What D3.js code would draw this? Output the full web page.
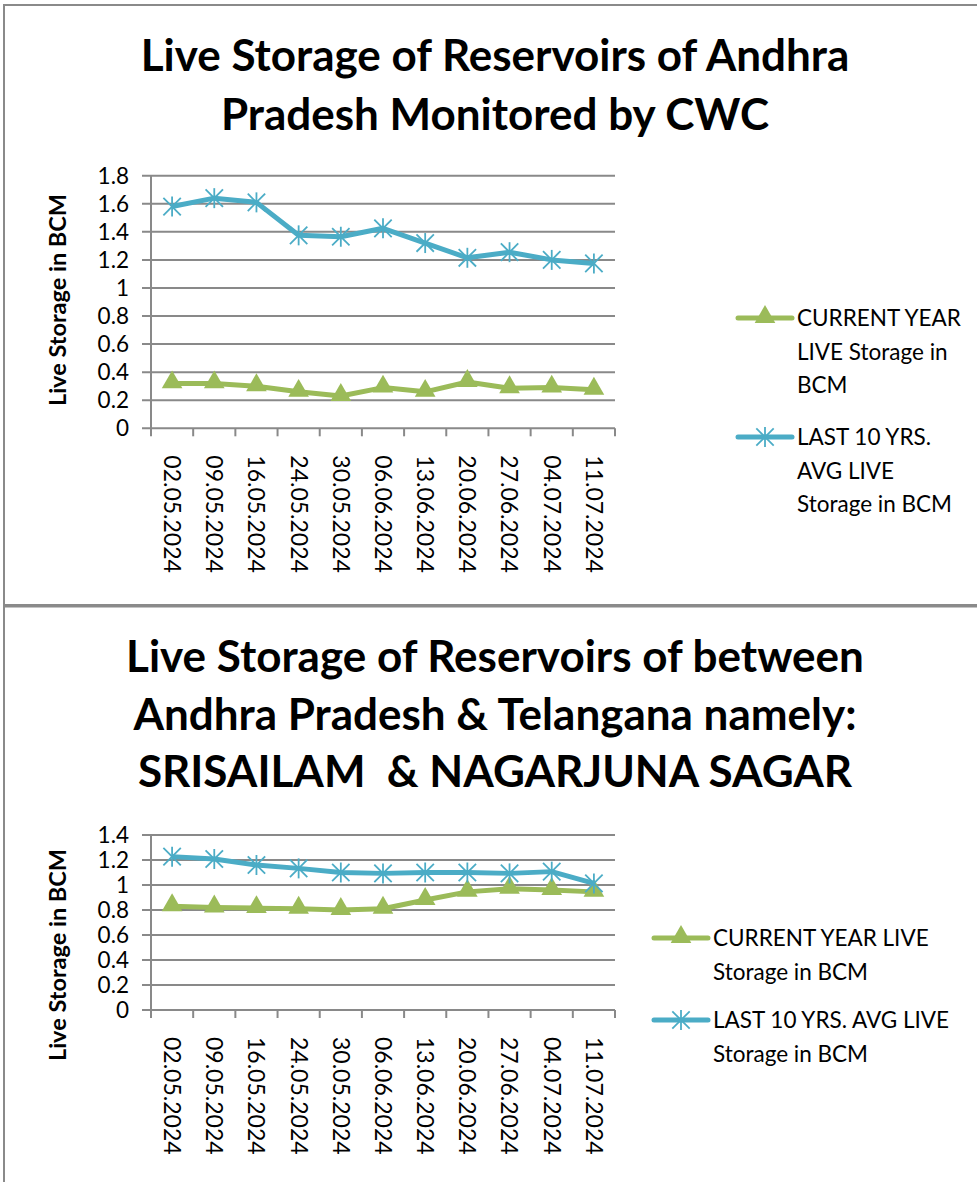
<!doctype html>
<meta charset="utf-8" />
<style>
    body { margin: 0; background: #fff; }
    svg { display: block; font-family: Lato, "Open Sans", sans-serif; }
</style>
<svg></svg>

<script src="https://cdn.jsdelivr.net/npm/d3@7"></script>

<script>
    // dates of the weekly CWC bulletins
    var dates = ['02.05.2024', '09.05.2024', '16.05.2024', '24.05.2024', '30.05.2024', '06.06.2024',
        '13.06.2024', '20.06.2024', '27.06.2024', '04.07.2024', '11.07.2024'];

    // Andhra Pradesh reservoirs (BCM)
    var apCurrent = [0.32, 0.32, 0.30, 0.26, 0.23, 0.29, 0.26, 0.33, 0.285, 0.29, 0.275];
    var apAvg = [1.58, 1.64, 1.61, 1.375, 1.365, 1.425, 1.32, 1.215, 1.255, 1.20, 1.175];

    // Srisailam & Nagarjuna Sagar (BCM)
    var ssCurrent = [0.83, 0.82, 0.815, 0.81, 0.80, 0.81, 0.88, 0.945, 0.97, 0.96, 0.945];
    var ssAvg = [1.227, 1.208, 1.16, 1.133, 1.10, 1.093, 1.10, 1.10, 1.093, 1.107, 1.013];

    var apTicks = [0, 0.2, 0.4, 0.6, 0.8, 1, 1.2, 1.4, 1.6, 1.8];
    var ssTicks = [0, 0.2, 0.4, 0.6, 0.8, 1, 1.2, 1.4];

    var green = '#9bbb59';
    var blue = '#4bacc6';
    var grid = '#898989';

    var svg = d3.select('svg')
        .attr('width', 977)
        .attr('height', 1182)

    // chart frames
    svg.append('rect').attr('x', 4).attr('y', 5).attr('width', 1000).attr('height', 600)
        .style('fill', 'none').style('stroke', '#8a8a8a').style('stroke-width', 2)
    svg.append('rect').attr('x', 4).attr('y', 606.5).attr('width', 1000).attr('height', 700)
        .style('fill', 'none').style('stroke', '#8a8a8a').style('stroke-width', 2)

    function drawChart(opt) {
        var g = svg.append('g');

        var x = d3.scaleBand().domain(dates).range([151, 615]);
        var y = d3.scaleLinear().domain([0, opt.max]).range([opt.bottom, opt.top]);

        // title
        g.append('g').selectAll('text')
            .data(opt.title)
            .enter().append('text')
            .attr('x', 495)
            .attr('y', function (d, i) { return opt.titleY + i * opt.titleStep; })
            .attr('text-anchor', 'middle')
            .attr('xml:space', 'preserve')
            .style('white-space', 'pre')
            .style('font-size', '44px')
            .style('font-weight', 'bold')
            .style('fill', '#000')
            .text(function (d) { return d; })

        // gridlines
        g.append('g').selectAll('line')
            .data(opt.ticks)
            .enter().append('line')
            .attr('x1', 142).attr('x2', 615)
            .attr('y1', function (d) { return y(d); })
            .attr('y2', function (d) { return y(d); })
            .style('stroke', grid).style('stroke-width', 2)

        // y tick labels
        g.append('g').selectAll('text')
            .data(opt.ticks)
            .enter().append('text')
            .attr('x', 129)
            .attr('y', function (d) { return y(d); })
            .attr('dy', '0.36em')
            .attr('text-anchor', 'end')
            .style('font-size', '22.5px')
            .text(function (d) { return String(d); })

        // y axis line
        g.append('line')
            .attr('x1', 151).attr('x2', 151)
            .attr('y1', y(opt.max)).attr('y2', y(0))
            .style('stroke', grid).style('stroke-width', 2)

        // x tick marks between categories
        var edges = dates.map(function (d) { return x(d); }).concat([x.range()[1]]);
        g.append('g').selectAll('line')
            .data(edges)
            .enter().append('line')
            .attr('x1', function (d) { return d; })
            .attr('x2', function (d) { return d; })
            .attr('y1', y(0)).attr('y2', y(0) + 8)
            .style('stroke', grid).style('stroke-width', 2)

        // x labels, rotated
        g.append('g').selectAll('text')
            .data(dates)
            .enter().append('text')
            .attr('transform', function (d) {
                return 'translate(' + (x(d) + x.bandwidth() / 2) + ',' + (y(0) + opt.labelGap) + ') rotate(90)';
            })
            .attr('dy', '0.35em')
            .style('font-size', '23px')
            .text(function (d) { return d; })

        // y axis title
        g.append('text')
            .attr('transform', 'translate(58,' + opt.axisTitleY + ') rotate(-90)')
            .attr('text-anchor', 'middle')
            .attr('dy', '0.35em')
            .style('font-size', '23.5px')
            .style('font-weight', 'bold')
            .text('Live Storage in BCM')

        var line = d3.line()
            .x(function (d, i) { return x(dates[i]) + x.bandwidth() / 2; })
            .y(function (d) { return y(d); })

        var tri = d3.symbol().type(d3.symbolTriangle).size(185);

        function star(sel) {
            var r = 10;
            sel.append('line').attr('x1', 0).attr('x2', 0).attr('y1', -r).attr('y2', r);
            sel.append('line').attr('x1', -r * 0.87).attr('x2', r * 0.87).attr('y1', -r * 0.87).attr('y2', r * 0.87);
            sel.append('line').attr('x1', -r * 0.87).attr('x2', r * 0.87).attr('y1', r * 0.87).attr('y2', -r * 0.87);
        }

        // current year series
        g.append('path')
            .attr('d', line(opt.current))
            .style('fill', 'none').style('stroke', green).style('stroke-width', 5)
            .style('stroke-linejoin', 'round')
        g.append('g').selectAll('path')
            .data(opt.current)
            .enter().append('path')
            .attr('transform', function (d, i) {
                return 'translate(' + (x(dates[i]) + x.bandwidth() / 2) + ',' + (y(d) - 1) + ')';
            })
            .attr('d', tri)
            .style('fill', green)

        // last 10 years average series
        g.append('path')
            .attr('d', line(opt.avg))
            .style('fill', 'none').style('stroke', blue).style('stroke-width', 5)
            .style('stroke-linejoin', 'round')
        g.append('g').selectAll('g')
            .data(opt.avg)
            .enter().append('g')
            .attr('transform', function (d, i) {
                return 'translate(' + (x(dates[i]) + x.bandwidth() / 2) + ',' + y(d) + ')';
            })
            .style('stroke', blue).style('stroke-width', 1.8)
            .call(star)

        // legend
        var items = [
            { color: green, lines: opt.legend[0], marker: 'tri' },
            { color: blue, lines: opt.legend[1], marker: 'star' }
        ];
        items.forEach(function (it, k) {
            var ly = opt.legendY[k];
            var lg = g.append('g');
            lg.append('line')
                .attr('x1', opt.legendX).attr('x2', opt.legendX + 54)
                .attr('y1', ly).attr('y2', ly)
                .style('stroke', it.color).style('stroke-width', 5).style('stroke-linecap', 'round')
            if (it.marker === 'tri') {
                lg.append('path')
                    .attr('transform', 'translate(' + (opt.legendX + 27) + ',' + (ly - 1) + ')')
                    .attr('d', tri)
                    .style('fill', it.color)
            } else {
                lg.append('g')
                    .attr('transform', 'translate(' + (opt.legendX + 27) + ',' + ly + ')')
                    .style('stroke', it.color).style('stroke-width', 1.8)
                    .call(star)
            }
            lg.selectAll('text')
                .data(it.lines)
                .enter().append('text')
                .attr('x', opt.legendX + 59)
                .attr('y', function (d, i) { return ly + i * 33.5; })
                .attr('dy', '0.36em')
                .style('font-size', '22.5px')
                .text(function (d) { return d; })
        });
    }

    drawChart({
        title: ['Live Storage of Reservoirs of Andhra', 'Pradesh Monitored by CWC'],
        titleY: 71, titleStep: 58.5,
        max: 1.8, top: 175.7, bottom: 428.3,
        ticks: apTicks,
        current: apCurrent, avg: apAvg,
        labelGap: 27,
        axisTitleY: 300,
        legendX: 738,
        legendY: [318, 437],
        legend: [['CURRENT YEAR', 'LIVE Storage in', 'BCM'], ['LAST 10 YRS.', 'AVG LIVE', 'Storage in BCM']]
    });

    drawChart({
        title: ['Live Storage of Reservoirs of between', 'Andhra Pradesh & Telangana namely:', 'SRISAILAM  & NAGARJUNA SAGAR'],
        titleY: 672, titleStep: 57.5,
        max: 1.4, top: 835, bottom: 1010,
        ticks: ssTicks,
        current: ssCurrent, avg: ssAvg,
        labelGap: 27,
        axisTitleY: 955,
        legendX: 654,
        legendY: [938, 1020],
        legend: [['CURRENT YEAR LIVE', 'Storage in BCM'], ['LAST 10 YRS. AVG LIVE', 'Storage in BCM']]
    });
</script>
